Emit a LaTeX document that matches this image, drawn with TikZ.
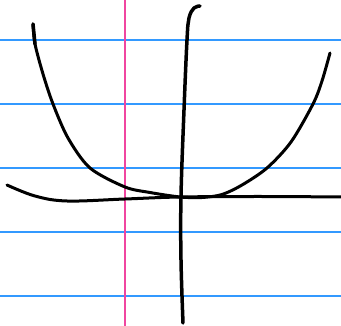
\documentclass[tikz,border=0pt]{standalone}
\definecolor{rulecol}{RGB}{51,153,255}
\definecolor{margincol}{RGB}{240,70,160}
\begin{document}
\begin{tikzpicture}[x=1pt,y=-1pt,
  rule/.style={draw=rulecol,line width=1.6pt},
  margin/.style={draw=margincol,line width=1.8pt},
  ink/.style={draw=black,line width=3pt,line cap=round,line join=round}]
\useasboundingbox (0,0) rectangle (341,326);
\fill[white] (0,0) rectangle (341,326);
\foreach \yy in {40.3,104.3,168.3,232.3,296.3}
  \draw[rule] (0,\yy) -- (341,\yy);
\draw[margin] (125,0) -- (125,326);
% horizontal axis
\draw[ink] plot[smooth,tension=0.6] coordinates {(7,185) (35,196) (67,201) (125,199) (180,197) (260,196.5) (341,197)};
% vertical axis
\draw[ink,line width=3.5pt] plot[smooth,tension=0.6] coordinates {(200,6) (194,8) (189,18) (187,40) (184,110) (181,196) (181,260) (183,323)};
% parabola
\draw[ink,line width=3.5pt] (33,24) -- (35,44);
\draw[ink] plot[smooth,tension=0.5] coordinates {(33,24) (35,44) (43,74) (53,104) (68,138) (90,168) (125,187) (150,192.5) (180,197) (202,197.5) (222,194.5) (242,185) (267,168) (291,142) (313,104) (322,81) (330,53)};
\end{tikzpicture}
\end{document}
